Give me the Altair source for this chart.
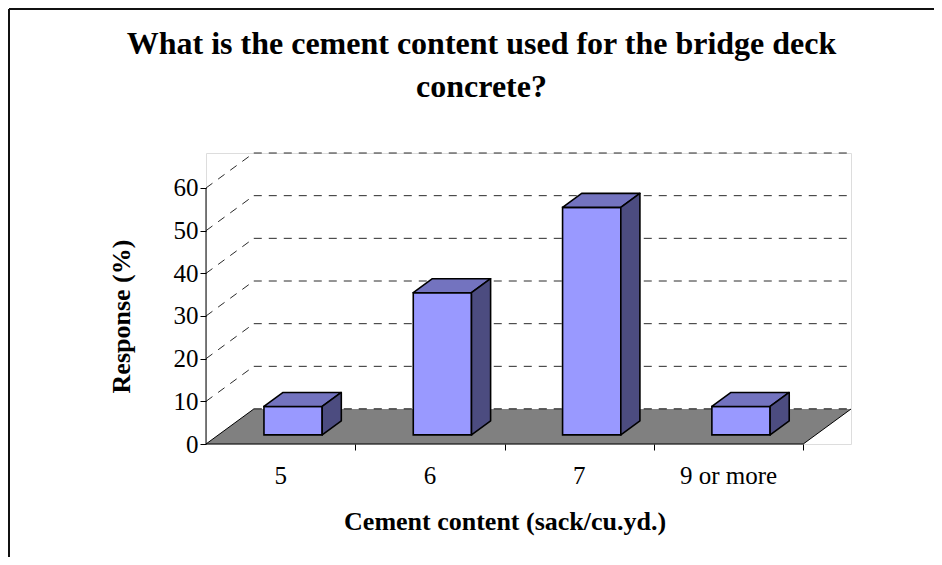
import altair as alt
import pandas as pd

# ---- data ----
categories = ["5", "6", "7", "9 or more"]
values = [6.67, 33.33, 53.33, 6.67]          # Response (%)
y_ticks = [0, 10, 20, 30, 40, 50, 60]
title_lines = ["What is the cement content used for the bridge deck", "concrete?"]
x_title = "Cement content (sack/cu.yd.)"
y_title = "Response (%)"

# ---- 3-D geometry (style constants, in data units) ----
N = len(categories)
DX = 0.32        # depth of floor in category units
DY = 8.2         # depth of floor in % units
XMAX = N + DX
YMAX = 60 + DY
BW = 0.39        # bar width (category units)
FF = 0.26        # front plane of bars as fraction of depth
BD = 0.40        # bar depth as fraction of depth
fdx, fdy = FF * DX, FF * DY
bdx, bdy = BD * DX, BD * DY

W = 645
H = 291

xs = alt.Scale(domain=[0, XMAX], nice=False, zero=False)
ys = alt.Scale(domain=[0, YMAX], nice=False, zero=False)

FONT = "Liberation Serif"

X_AXIS = alt.Axis(values=[1, 2, 3, 4], labels=False, domain=False, grid=False,
                  tickSize=6, tickColor="black", tickWidth=1,
                  title=x_title, titleFont=FONT, titleFontSize=26, titleFontWeight="bold",
                  titleColor="black", titleX=2 * W / XMAX, titleY=85,
                  titleBaseline="alphabetic", titleAlign="center")
Y_AXIS = alt.Axis(values=y_ticks, domain=False, grid=False,
                  tickSize=6, tickColor="black", tickWidth=1,
                  labelFont=FONT, labelFontSize=25, labelColor="black", labelPadding=2,
                  title=y_title, titleFont=FONT, titleFontSize=26, titleFontWeight="bold",
                  titleColor="black", titleX=-85, titleY=H - 30 * H / YMAX,
                  titleBaseline="middle", titleAngle=-90)

def X(f):
    return alt.X(f, type="quantitative", scale=xs, axis=X_AXIS)

def Y(f):
    return alt.Y(f, type="quantitative", scale=ys, axis=Y_AXIS)

# ---- tables ----
grid_df = pd.DataFrame({"v": y_ticks})
grid_df["x"] = DX
grid_df["x2"] = N + DX
grid_df["y"] = grid_df["v"] + DY
grid_df["y0"] = grid_df["v"]

diag_df = grid_df[grid_df["v"] > 0].copy()
diag_df["xa"] = 0.0

floor_df = pd.DataFrame({"y": [0, DY], "x": [0, DX], "x2": [N, N + DX]})
edge_df = pd.DataFrame({"x": [0, N], "x2": [DX, N + DX], "y": [0, 0], "y2": [DY, DY]})
xaxis_df = pd.DataFrame({"x": [0], "x2": [N], "y": [0]})
yaxis_df = pd.DataFrame({"x": [0], "y": [0], "y2": [60]})

front, side, top, labels = [], [], [], []
for i, (c, v) in enumerate(zip(categories, values)):
    cx = i + 0.5
    xl = cx - BW / 2 + fdx
    xr = cx + BW / 2 + fdx
    front.append({"cat": c, "x": xl, "x2": xr, "y": fdy, "y2": v + fdy})
    side.append({"cat": c, "x": xr, "ylo": fdy, "yhi": v + fdy})
    side.append({"cat": c, "x": xr + bdx, "ylo": fdy + bdy, "yhi": v + fdy + bdy})
    top.append({"cat": c, "y": v + fdy, "xlo": xl, "xhi": xr})
    top.append({"cat": c, "y": v + fdy + bdy, "xlo": xl + bdx, "xhi": xr + bdx})
    labels.append({"cat": c, "x": cx, "y": 0})
front_df = pd.DataFrame(front)
side_df = pd.DataFrame(side)
top_df = pd.DataFrame(top)
label_df = pd.DataFrame(labels)

DASH = [8, 7]
GRID_C = "#2a2a2a"

grid = alt.Chart(grid_df).mark_rule(color=GRID_C, strokeDash=DASH, strokeWidth=1).encode(
    x=X("x"), x2="x2", y=Y("y"))
diag = alt.Chart(diag_df).mark_rule(color=GRID_C, strokeDash=DASH, strokeWidth=1).encode(
    x=X("xa"), x2="x", y=Y("y0"), y2="y")
floor = alt.Chart(floor_df).mark_area(orient="horizontal", color="#808080", opacity=1).encode(
    y=Y("y"), x=X("x"), x2="x2")
grid0 = alt.Chart(grid_df[grid_df["v"] == 0]).mark_rule(color=GRID_C, strokeDash=DASH, strokeWidth=1).encode(
    x=X("x"), x2="x2", y=Y("y"))
edges = alt.Chart(edge_df).mark_rule(color="black", strokeWidth=1).encode(
    x=X("x"), x2="x2", y=Y("y"), y2="y2")
xaxis_line = alt.Chart(xaxis_df).mark_rule(color="black", strokeWidth=1).encode(
    x=X("x"), x2="x2", y=Y("y"))
yaxis_line = alt.Chart(yaxis_df).mark_rule(color="black", strokeWidth=1).encode(
    x=X("x"), y=Y("y"), y2="y2")

fronts = alt.Chart(front_df).mark_rect(color="#9999FF", stroke="black", strokeWidth=1.6).encode(
    x=X("x"), x2="x2", y=Y("y"), y2="y2")
tops = alt.Chart(top_df).mark_area(orient="horizontal", color="#7373BF", stroke="black",
                                   strokeWidth=1.6, opacity=1, strokeJoin="round").encode(
    y=Y("y"), x=X("xlo"), x2="xhi", detail="cat:N")
sides = alt.Chart(side_df).mark_area(orient="vertical", color="#4C4C80", stroke="black",
                                     strokeWidth=1.6, opacity=1, strokeJoin="round").encode(
    x=X("x"), y=Y("ylo"), y2="yhi", detail="cat:N")

cat_labels = alt.Chart(label_df).mark_text(font=FONT, fontSize=25, color="black",
                                           baseline="alphabetic", dy=40).encode(
    x=X("x"), y=Y("y"), text="cat:N")

frame_left = alt.Chart(xaxis_df).mark_rule(color="#111", strokeWidth=2).encode(
    x=alt.value(-197), y=alt.value(-144), y2=alt.value(H + 113))
frame_top = alt.Chart(xaxis_df).mark_rule(color="#111", strokeWidth=2).encode(
    x=alt.value(-197), x2=alt.value(W + 90), y=alt.value(-144))

chart = alt.layer(
    grid, diag, floor, grid0, edges, xaxis_line, yaxis_line,
    fronts, tops, sides, cat_labels, frame_left, frame_top
).properties(
    width=W, height=H,
    title=alt.TitleParams(title_lines, font=FONT, fontSize=32, fontWeight="bold",
                          color="black", lineHeight=43, anchor="middle", frame="group",
                          dx=-47, offset=-96),
    autosize=alt.AutoSizeParams(type="none"),
    padding={"left": 198, "top": 145, "right": 83, "bottom": 113},
).configure_view(stroke=None).configure(background="white")

chart.save("out.html", embed_options={"renderer": "svg", "actions": False})
